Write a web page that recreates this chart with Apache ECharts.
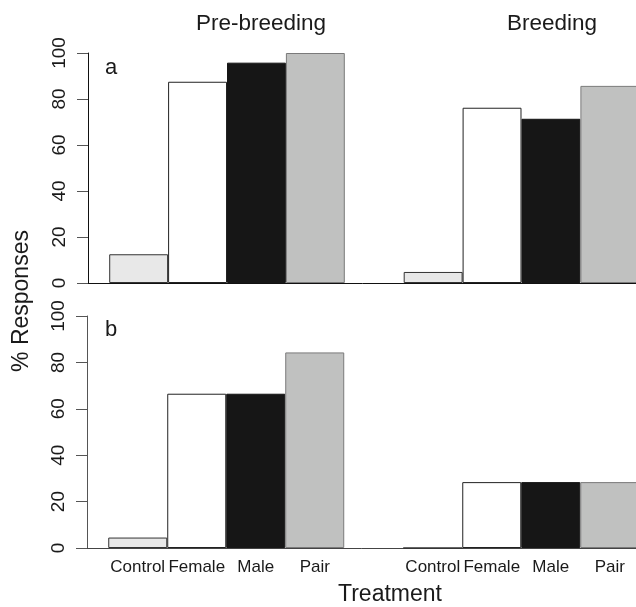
<!DOCTYPE html>
<html>
<head>
<meta charset="utf-8">
<script src="https://cdn.jsdelivr.net/npm/echarts@6/dist/echarts.min.js"></script>
<style>
  html, body { margin: 0; padding: 0; background: #fff; }
  #chart { width: 636px; height: 607px; }
</style>
</head>
<body>
<div id="chart"></div>
<script>
const treatments = ['Control', 'Female', 'Male', 'Pair'];
const periods = ['Pre-breeding', 'Breeding'];

// panel a, values per period [Pre-breeding, Breeding]
const aControl = [12.5, 4.8];
const aFemale = [87.5, 76.2];
const aMale = [95.8, 71.4];
const aPair = [100, 85.7];

// panel b
const bControl = [4.5, 0];
const bFemale = [66.5, 28.4];
const bMale = [66.5, 28.4];
const bPair = [84.3, 28.4];

const yTicks = [0, 20, 40, 60, 80, 100];

const fills = ['#e8e8e8', '#ffffff', '#161616', '#c0c1c0'];
const borders = ['#333333', '#222222', '#161616', '#7a7a7a'];
const FONT = '"Liberation Sans", Arial, sans-serif';

// bar centre on the x scale: groups of 4 with one empty slot between
function xPos(period, t) { return period * 5 + t + 1.5; }

const chart = echarts.init(document.getElementById('chart'));

function makeSeries(panel, values) {
    return values.map(function (vals, t) {
        return {
            name: treatments[t],
            type: 'bar',
            xAxisIndex: panel,
            yAxisIndex: panel,
            barWidth: '100%',
            barGap: '-100%',
            itemStyle: { color: fills[t], borderColor: borders[t], borderWidth: 1 },
            data: vals.map(function (v, p) { return [xPos(p, t), v]; })
        };
    });
}

const labelValues = [];
periods.forEach(function (p, pi) {
    treatments.forEach(function (t, ti) { labelValues.push(xPos(pi, ti)); });
});

function xAxisFor(panel, showLabels) {
    return {
        type: 'value',
        gridIndex: panel,
        min: 0.64,
        max: 10.36,
        axisLine: { show: true, lineStyle: { color: panel === 0 ? '#111' : '#444', width: 1 } },
        axisTick: { show: false },
        splitLine: { show: false },
        axisLabel: {
            show: showLabels,
            customValues: labelValues,
            margin: 11,
            fontSize: 17,
            fontFamily: FONT,
            color: '#1a1a1a',
            formatter: function (v) {
                const i = Math.round(v - 1.5);
                return treatments[i % 5] || '';
            }
        }
    };
}

function yAxisFor(panel) {
    return {
        type: 'value',
        gridIndex: panel,
        min: yTicks[0],
        max: yTicks[yTicks.length - 1],
        interval: 20,
        axisLine: { show: true, lineStyle: { color: panel === 0 ? '#111' : '#555', width: 1 } },
        axisTick: { show: true, length: 11, lineStyle: { color: '#555' } },
        splitLine: { show: false },
        axisLabel: {
            rotate: 90,
            margin: 19,
            fontSize: 19,
            fontFamily: FONT,
            color: '#1a1a1a'
        }
    };
}

function textEl(str, x, y, size, rot, align) {
    return {
        type: 'text',
        x: x, y: y,
        rotation: rot || 0,
        style: {
            text: str,
            fontSize: size,
            fontFamily: FONT,
            fill: '#1a1a1a',
            textAlign: align || 'center',
            textVerticalAlign: 'middle'
        }
    };
}

chart.setOption({
    animation: false,
    backgroundColor: '#fff',
    grid: [
        { left: 88, top: 53, height: 230, right: -24.5, outerBoundsMode: 'none' },
        { left: 87, top: 316, height: 232, right: -24.5, outerBoundsMode: 'none' }
    ],
    xAxis: [xAxisFor(0, false), xAxisFor(1, true)],
    yAxis: [yAxisFor(0), yAxisFor(1)],
    series: makeSeries(0, [aControl, aFemale, aMale, aPair])
        .concat(makeSeries(1, [bControl, bFemale, bMale, bPair])),
    graphic: [
        textEl(periods[0], 261, 24, 22.5),
        textEl(periods[1], 552, 24, 22.5),
        textEl('a', 105, 68, 22, 0, 'left'),
        textEl('b', 105, 330, 22, 0, 'left'),
        textEl('% Responses', 22, 301, 23, Math.PI / 2),
        textEl('Treatment', 390, 595, 23)
    ]
});
</script>
</body>
</html>
